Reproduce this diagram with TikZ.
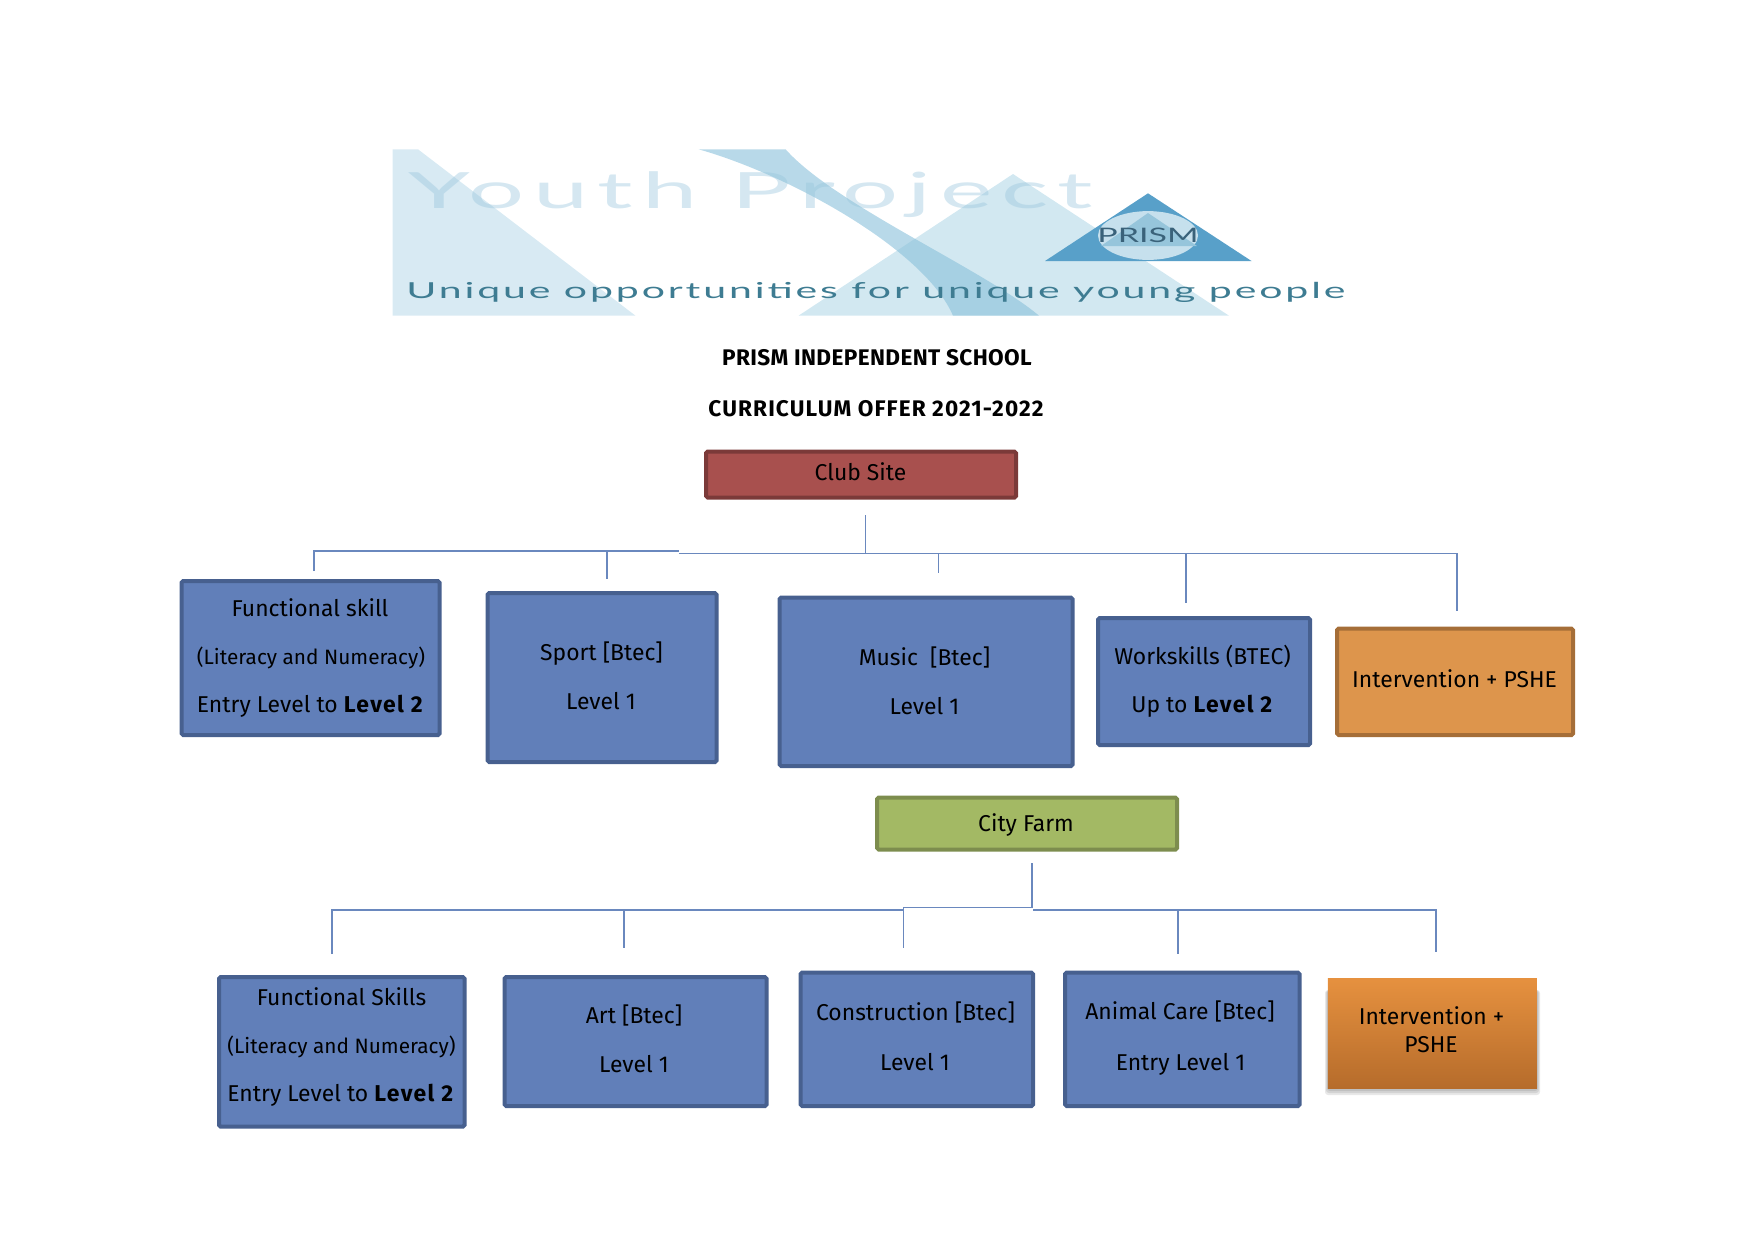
\documentclass[tikz,border=0pt]{standalone}
\usepackage{fontspec}
\setmainfont[BoldFeatures={LetterSpace=6}]{Fira Sans}
\newfontfamily\logofont[LetterSpace=18,FakeStretch=1.98]{Lato}
\newfontfamily\logosub[LetterSpace=13,FakeStretch=1.865]{Lato}
\newfontfamily\prismfont[FakeStretch=1.7]{Lato}
\newfontfamily\ttlA[BoldFeatures={LetterSpace=1.7}]{Fira Sans}
\newfontfamily\ttlB[BoldFeatures={LetterSpace=4.9}]{Fira Sans}
\definecolor{blueF}{HTML}{617FB9}\definecolor{blueD}{HTML}{47608F}
\definecolor{redF}{HTML}{A8504E}\definecolor{redD}{HTML}{7B3A39}
\definecolor{orF}{HTML}{DD954C}\definecolor{orD}{HTML}{A56E38}
\definecolor{grF}{HTML}{A3B964}\definecolor{grD}{HTML}{7D8D4E}
\definecolor{lineC}{HTML}{6A88BE}
\definecolor{orTop}{HTML}{E6913F}\definecolor{orBot}{HTML}{B66C2B}
\tikzset{
  x=0.5pt,y=-0.5pt,
  boxbase/.style={rectangle,line width=2pt,rounded corners=0.8pt,inner sep=0pt,outer sep=0pt},
  bluebox/.style={boxbase,fill=blueF,draw=blueD},
  redbox/.style={boxbase,fill=redF,draw=redD},
  orbox/.style={boxbase,fill=orF,draw=orD},
  grbox/.style={boxbase,fill=grF,draw=grD},
  gradbox/.style={rectangle,inner sep=0pt,outer sep=0pt,top color=orTop,bottom color=orBot},
  softshadow/.style={fill=black,fill opacity=.09,rounded corners=1.5pt},
  txt/.style={anchor=base,inner sep=0pt,yshift=-0.5pt,font=\fontsize{11.45}{13}\selectfont},
  txts/.style={txt,font=\fontsize{10.4}{12}\selectfont},
  ttl/.style={anchor=base,inner sep=0pt,yshift=-0.5pt},
  conn/.style={draw=lineC,line width=0.8pt},
}
\newcommand{\bxn}[6]{\node[#6,minimum width={(#4-#2-4)*0.5pt},minimum height={(#5-#3-4)*0.5pt}] (#1) at ({(#2+#4)/2},{(#3+#5)/2}) {};}
\begin{document}
\begin{tikzpicture}
\useasboundingbox (0,0) rectangle (1754,1239);
% logo
\fill[fill={rgb,255:red,216;green,234;blue,243}] (392.5,149.3) -- (418,149.3) -- (635.5,315.7) -- (392.5,315.7) -- cycle;
\fill[fill={rgb,255:red,210;green,232;blue,241}] (1013,174) -- (1229,315.7) -- (798.5,315.7) -- cycle;
\fill[fill={rgb,255:red,140;green,194;blue,219},fill opacity=.62] (698.6,149.3) .. controls (790,175) and (925,250) .. (953,315.7) -- (1039,315.7) .. controls (985,270) and (835,205) .. (785.6,149.3) -- cycle;
\node[anchor=base west,inner sep=0pt,text={rgb,255:red,150;green,196;blue,220},text opacity=.4,font=\logofont\fontsize{25}{30}\selectfont] (logoa) at (408,208) {Youth Project};
\fill[fill={rgb,255:red,88;green,160;blue,201}] (1148,193.3) -- (1251.5,261) -- (1045,261) -- cycle;
\fill[fill={rgb,255:red,198;green,224;blue,237}] (1148,235.5) ellipse (25pt and 12.2pt);
\fill[fill={rgb,255:red,150;green,197;blue,219}] (1148,213) -- (1197,246) -- (1101,246) -- cycle;
\node[anchor=base,inner sep=0pt,text={rgb,255:red,58;green,98;blue,122},font=\prismfont\fontsize{10}{12}\selectfont] (logop) at (1148,242) {PRISM};
\node[anchor=base west,inner sep=0pt,text={rgb,255:red,62;green,124;blue,146},font=\logosub\fontsize{11}{13}\selectfont] (logos) at (406,298.5) {Unique opportunities for unique young people};
% titles
\node[ttl,font=\fontsize{11.3}{13}\selectfont\ttlA\bfseries] (t1) at (877,364.5) {PRISM INDEPENDENT SCHOOL};
\node[ttl,font=\fontsize{11.3}{13}\selectfont\ttlB\bfseries] (t2) at (876,415) {CURRICULUM OFFER 2021-2022};
% boxes
\bxn{club}{704}{449.5}{1018}{499.5}{redbox}
\bxn{fa}{179.5}{579}{441.5}{737}{bluebox}
\bxn{fb}{485.5}{591}{718.5}{764}{bluebox}
\bxn{fc}{777.5}{595.5}{1074.5}{768}{bluebox}
\bxn{fd}{1096}{616}{1312}{747}{bluebox}
\bxn{fe}{1335}{626.5}{1575}{737}{orbox}
\bxn{farm}{875}{795.5}{1179}{851.5}{grbox}
\bxn{ga}{217}{975}{466.5}{1128.5}{bluebox}
\bxn{gb}{502.5}{975}{768.5}{1108}{bluebox}
\bxn{gc}{798.5}{970.5}{1035}{1108}{bluebox}
\bxn{gd}{1063}{970.5}{1301.5}{1108}{bluebox}
\fill[softshadow] (1325,990) rectangle (1540,1095);
\fill[softshadow] (1326,990) rectangle (1539,1093);
\fill[softshadow] (1327,990) rectangle (1538,1091);
\node[gradbox,minimum width=104.5pt,minimum height=55pt] (ge) at (1432.3,1033) {};
% box text
\node[txt] (c1) at (860.5,479) {Club Site};
\node[txt] (a1) at (310,615) {Functional skill};
\node[txts] (a2) at (311,663) {(Literacy and Numeracy)};
\node[txt] (a3) at (310.5,711.5) {Entry Level to \textbf{Level 2}};
\node[txt] (b1) at (601.5,659) {Sport [Btec]};
\node[txt] (b2) at (601,708.5) {Level 1};
\node[txt] (m1) at (924.5,664) {Music\ \ [Btec]};
\node[txt] (m2) at (924.5,713.5) {Level 1};
\node[txt] (w1) at (1202.5,663) {Workskills (BTEC)};
\node[txt] (w2) at (1202.5,711.5) {Up to \textbf{Level 2}};
\node[txt] (i1) at (1454.5,686.5) {Intervention + PSHE};
\node[txt] (c2) at (1026,830.5) {City Farm};
\node[txt] (p1) at (341.5,1004) {Functional Skills};
\node[txts] (p2) at (341.5,1052.5) {(Literacy and Numeracy)};
\node[txt] (p3) at (341,1100.5) {Entry Level to \textbf{Level 2}};
\node[txt] (q1) at (634,1022.5) {Art [Btec]};
\node[txt] (q2) at (634,1071.5) {Level 1};
\node[txt] (r1) at (915.5,1019.5) {Construction [Btec]};
\node[txt] (r2) at (915,1069) {Level 1};
\node[txt] (s1) at (1180,1018.5) {Animal Care [Btec]};
\node[txt] (s2) at (1180.5,1069) {Entry Level 1};
\node[txt] (u1) at (1431.5,1023.5) {Intervention +};
\node[txt] (u2) at (1431,1051.5) {PSHE};
% connectors, top tree
\coordinate (ct) at (865.5,515);
\coordinate (cj) at (865.5,554);
\coordinate (hl) at (313.7,551);
\coordinate (hm) at (679,551);
\coordinate (hn) at (679,553.5);
\coordinate (hr) at (1457,553.5);
\coordinate (da) at (313.7,571);
\coordinate (ub) at (607,551);
\coordinate (db) at (607,579);
\coordinate (uc) at (938.4,553.5);
\coordinate (dc) at (938.4,573);
\coordinate (ud) at (1185.8,553.5);
\coordinate (dd) at (1185.8,603);
\coordinate (de) at (1457,611);
\draw[conn] (ct) -- (cj);
\draw[conn] (da) -- (hl) -- (hm);
\draw[conn] (hn) -- (hr) -- (de);
\draw[conn] (ub) -- (db);
\draw[conn] (uc) -- (dc);
\draw[conn] (ud) -- (dd);
% connectors, bottom tree
\coordinate (kt) at (1032,863);
\coordinate (kj) at (1032,907.5);
\coordinate (kl) at (903.3,907.5);
\coordinate (kb) at (903.3,948);
\coordinate (ml) at (331.8,909.7);
\coordinate (mr) at (903.3,909.7);
\coordinate (na) at (331.8,954);
\coordinate (ug) at (624,909.7);
\coordinate (ng) at (624,948);
\coordinate (rl) at (1033,909.7);
\coordinate (rr) at (1436,909.7);
\coordinate (nr) at (1436,951.5);
\coordinate (uh) at (1178,909.7);
\coordinate (nh) at (1178,954);
\draw[conn] (kt) -- (kj) -- (kl) -- (kb);
\draw[conn] (na) -- (ml) -- (mr);
\draw[conn] (ug) -- (ng);
\draw[conn] (rl) -- (rr) -- (nr);
\draw[conn] (uh) -- (nh);
\end{tikzpicture}
\end{document}
